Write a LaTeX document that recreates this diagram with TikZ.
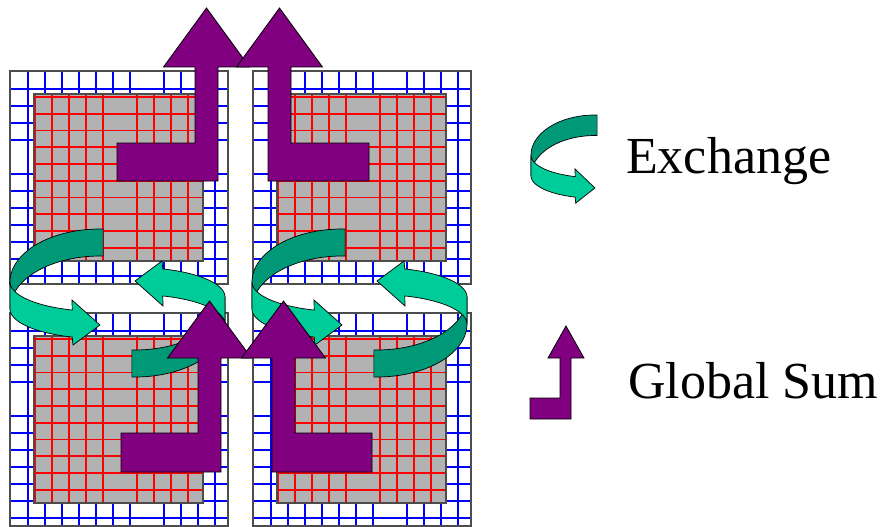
\documentclass[tikz,border=0pt]{standalone}
\usepackage{fontspec}
\setmainfont{Liberation Serif}
\definecolor{gblue}{RGB}{0,0,255}
\definecolor{gred}{RGB}{255,0,0}
\definecolor{boxgray}{RGB}{178,178,178}
\definecolor{gdark}{RGB}{0,153,119}
\definecolor{glight}{RGB}{0,204,153}
\definecolor{purp}{RGB}{128,0,128}
\tikzset{
  outerbox/.style={draw=black!70, line width=1.8pt},
  bluegrid/.style={draw=gblue, line width=1.6pt},
  redgrid/.style={draw=gred, line width=1.6pt},
  graybox/.style={draw=black!70, line width=1.8pt},
  purparrow/.style={fill=purp, draw=black, line width=0.8pt, line join=miter},
  gback/.style={fill=gdark, draw=black, line width=0.7pt, line join=round},
  gfront/.style={fill=glight, draw=black, line width=0.7pt, line join=miter},
  labeltext/.style={anchor=base west, inner sep=0pt, font=\fontsize{52}{62}\selectfont}
}
\newcommand\mytile[2]{%
  \begin{scope}[shift={(#1,#2)}]
    \fill[white] (0,0) rectangle (218,213);
    \foreach \k in {0,1,2,3,4,5,6,8,9,10,11}{\draw[bluegrid] ({18+17*\k},0) -- ({18+17*\k},213);}
    \foreach \k in {0,1,2,3,5,6,7,8,9,10,11}{\draw[bluegrid] (0,{18+17*\k}) -- (218,{18+17*\k});}
    \draw[outerbox] (0,0) rectangle (218,213);
    \fill[boxgray] (24,23) rectangle (193,190);
    \foreach \k in {0,1,2,3,4,6,7,8,9}{\draw[redgrid] ({25+17*\k},23) -- ({25+17*\k},190);}
    \foreach \k in {0,...,9}{\draw[redgrid] (24,{26+16.75*\k}) -- (193,{26+16.75*\k});}
    \draw[graybox] (24,23) rectangle (193,190);
  \end{scope}}
\newcommand\grnarrow{%
  \draw[gback] plot[domain=272:180,samples=40] ({90+90*cos(\x)},{53+53*sin(\x)})
     -- plot[domain=180:272,samples=40] ({90+90*cos(\x)},{80+53*sin(\x)}) -- cycle;
  \draw[gfront] plot[domain=180:108,samples=30] ({90+90*cos(\x)},{53+29.5*sin(\x)})
     -- (62,71) -- (90,96) -- (63,116)
     -- plot[domain=108:180,samples=30] ({90+90*cos(\x)},{80+29.5*sin(\x)}) -- cycle;}
\begin{document}
\begin{tikzpicture}[x=1pt,y=-1pt]
\useasboundingbox (0,0) rectangle (883,527);
\fill[white] (0,0) rectangle (883,527);
% tiles
\mytile{10}{71}
\mytile{253}{71}
\mytile{10}{313}
\mytile{253}{313}
% exchange arrows
\begin{scope}[shift={(10,229)}]\grnarrow\end{scope}
\begin{scope}[shift={(252,229)}]\grnarrow\end{scope}
\begin{scope}[rotate around={180:(117.5,303)}, shift={(10,229)}]\grnarrow\end{scope}
\begin{scope}[rotate around={180:(359.5,303)}, shift={(252,229)}]\grnarrow\end{scope}
% global sum arrows
\draw[purparrow] (206.5,8) -- (249.5,67) -- (218,67) -- (218,181) -- (117,181) -- (117,143) -- (195,143) -- (195,67) -- (163.5,67) -- cycle;
\draw[purparrow] (279.5,8) -- (322.5,67) -- (291,67) -- (291,143) -- (369,143) -- (369,181) -- (268,181) -- (268,67) -- (236.5,67) -- cycle;
\draw[purparrow] (209.5,301) -- (251.5,358) -- (221,358) -- (221,472) -- (121,472) -- (121,433) -- (198,433) -- (198,358) -- (167.5,358) -- cycle;
\draw[purparrow] (283.5,301) -- (325.5,358) -- (295,358) -- (295,433) -- (372,433) -- (372,472) -- (272,472) -- (272,358) -- (241.5,358) -- cycle;
% legend
\begin{scope}[shift={(531,115)}, xscale=.71, yscale=.76]\grnarrow\end{scope}
\node[labeltext] (exch) at (626,173) {Exchange};
\draw[purparrow] (566,326) -- (584,358) -- (571,358) -- (571,419) -- (530,419) -- (530,398) -- (560,398) -- (560,358) -- (548,358) -- cycle;
\node[labeltext] (gsum) at (628,398) {Global Sum};
\end{tikzpicture}
\end{document}
